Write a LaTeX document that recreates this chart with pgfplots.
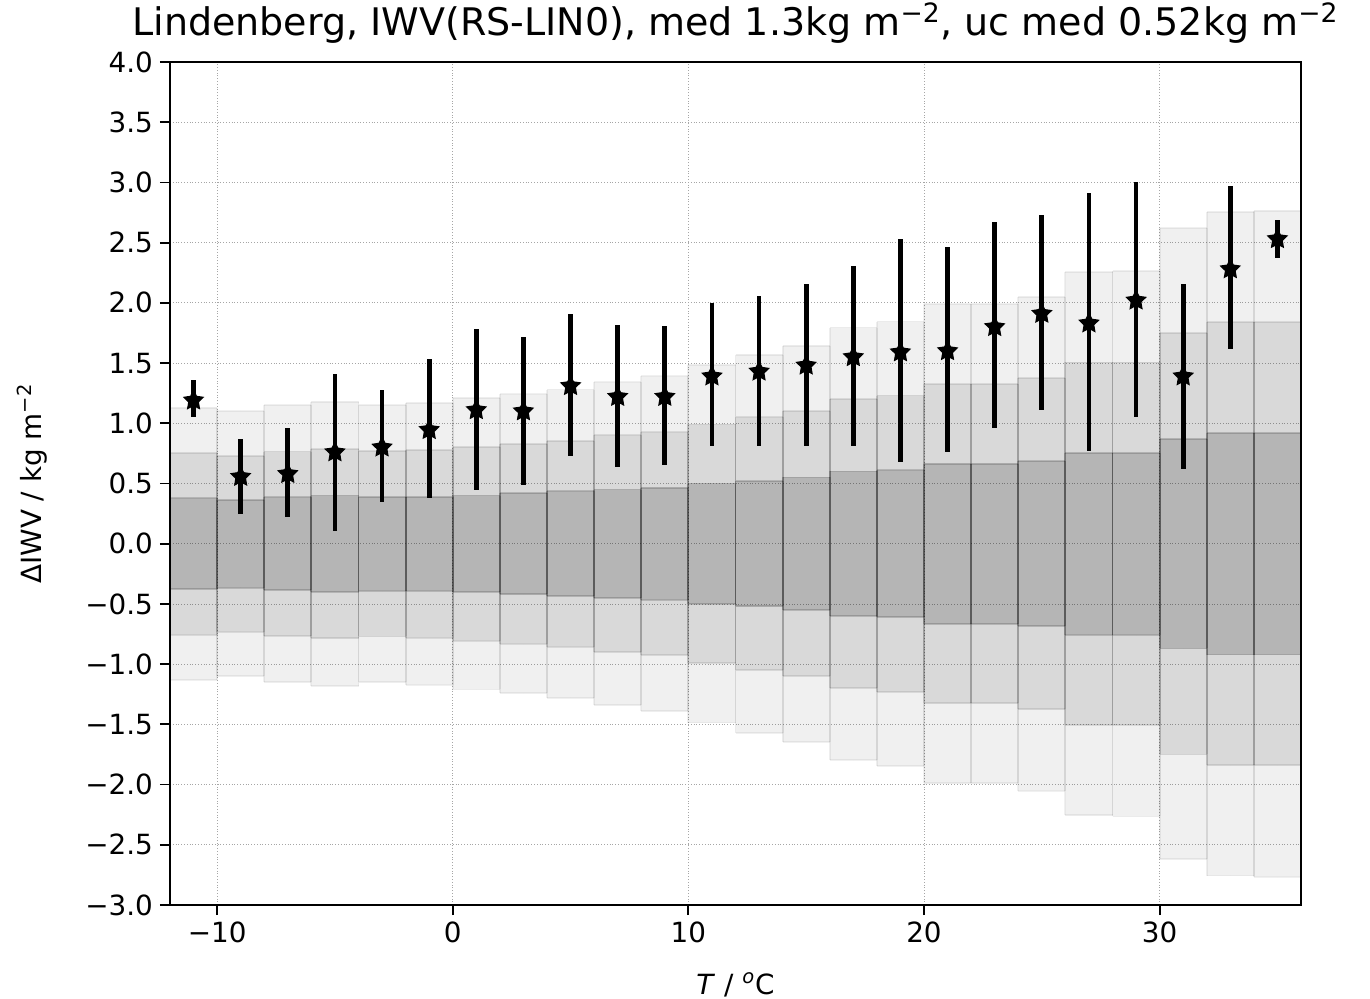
\documentclass[border=0pt]{standalone}
\usepackage{fontspec}
\setmainfont{DejaVu Sans}
\usepackage{pgfplots}
\usepackage{pgfplotstable}
\pgfplotsset{compat=1.18}

% filled five-pointed star, like matplotlib's '*'
\pgfdeclareplotmark{fstar}{%
  \pgfpathmoveto{\pgfpointpolar{90}{\pgfplotmarksize}}%
  \pgfpathlineto{\pgfpointpolar{126}{0.5\pgfplotmarksize}}%
  \pgfpathlineto{\pgfpointpolar{162}{\pgfplotmarksize}}%
  \pgfpathlineto{\pgfpointpolar{198}{0.5\pgfplotmarksize}}%
  \pgfpathlineto{\pgfpointpolar{234}{\pgfplotmarksize}}%
  \pgfpathlineto{\pgfpointpolar{270}{0.5\pgfplotmarksize}}%
  \pgfpathlineto{\pgfpointpolar{306}{\pgfplotmarksize}}%
  \pgfpathlineto{\pgfpointpolar{342}{0.5\pgfplotmarksize}}%
  \pgfpathlineto{\pgfpointpolar{18}{\pgfplotmarksize}}%
  \pgfpathlineto{\pgfpointpolar{54}{0.5\pgfplotmarksize}}%
  \pgfpathclose
  \pgfusepathqfillstroke}

% bin centre, 1/2/3 sigma half widths, median, error bar low/high
\pgfplotstableread{
x   s1     s2     s3     y      lo     hi
-11 0.377  0.755  1.13   1.19   1.05   1.36
-9  0.365  0.73   1.10   0.556  0.25   0.87
-7  0.385  0.765  1.15   0.58   0.22   0.96
-5  0.40   0.785  1.18   0.76   0.105  1.41
-3  0.39   0.77   1.15   0.80   0.35   1.28
-1  0.39   0.78   1.17   0.945  0.377  1.53
1   0.40   0.805  1.21   1.11   0.45   1.78
3   0.42   0.83   1.24   1.10   0.49   1.72
5   0.435  0.855  1.28   1.31   0.73   1.91
7   0.45   0.90   1.34   1.22   0.64   1.82
9   0.465  0.925  1.39   1.22   0.65   1.81
11  0.50   0.99   1.485  1.39   0.81   2.00
13  0.52   1.05   1.57   1.43   0.81   2.06
15  0.55   1.10   1.645  1.48   0.81   2.16
17  0.60   1.20   1.795  1.55   0.81   2.31
19  0.61   1.23   1.845  1.59   0.68   2.53
21  0.665  1.325  1.99   1.60   0.76   2.46
23  0.665  1.325  1.99   1.80   0.96   2.67
25  0.685  1.375  2.05   1.91   1.11   2.73
27  0.755  1.505  2.255  1.83   0.77   2.91
29  0.755  1.505  2.265  2.02   1.05   3.00
31  0.87   1.75   2.62   1.39   0.62   2.16
33  0.92   1.84   2.755  2.28   1.62   2.97
35  0.92   1.84   2.765  2.53   2.37   2.69
}\bins

\newcommand{\fs}{\fontsize{13.9}{16.5}\selectfont}

\begin{document}
\begin{tikzpicture}
\begin{axis}[
  width=565.5pt, height=421.5pt, scale only axis,
  xmin=-12, xmax=36, ymin=-3, ymax=4,
  xtick={-10,0,10,20,30},
  xticklabels={−10,0,10,20,30},
  ytick={-3,-2.5,-2,-1.5,-1,-0.5,0,0.5,1,1.5,2,2.5,3,3.5,4},
  yticklabels={−3.0,−2.5,−2.0,−1.5,−1.0,−0.5,0.0,0.5,1.0,1.5,2.0,2.5,3.0,3.5,4.0},
  tick align=outside, xtick pos=bottom, ytick pos=left,
  major tick length=5pt,
  tick style={black, line width=0.9pt},
  axis line style={line width=1.1pt},
  grid=major, grid style={gray!70, line width=0.4pt, densely dotted},
  ticklabel style={font=\fs},
  label style={font=\fs},
  xlabel shift=8pt, ylabel shift=12pt,
  title style={font=\fontsize{19}{22}\selectfont, at={(0.5,1)}, anchor=south, yshift=0pt},
  xlabel={\textit{T} / \textsuperscript{\textit{o}}C},
  ylabel={ΔIWV / kg m\textsuperscript{−2}},
  title={Lindenberg, IWV(RS-LIN0), med 1.3kg m\textsuperscript{−2}, uc med 0.52kg m\textsuperscript{−2}},
  band/.style={ybar, bar width=2, bar shift=0pt, draw=none, fill=black, fill opacity=#1, forget plot},
  vedge/.style={draw=none, no markers, forget plot,
    error bars/.cd, y dir=both, y explicit, error mark=none,
    error bar style={draw=black, draw opacity=#1, line width=0.9pt}},
  hedge/.style={draw=none, no markers, forget plot,
    error bars/.cd, x dir=both, x explicit, error mark=none,
    error bar style={draw=black, draw opacity=#1, line width=0.9pt}},
]
% 3 sigma band
\addplot[band=0.06] table[x=x, y=s3] {\bins};
\addplot[band=0.06] table[x=x, y expr=-\thisrow{s3}] {\bins};
% 2 sigma band
\addplot[band=0.096] table[x=x, y=s2] {\bins};
\addplot[band=0.096] table[x=x, y expr=-\thisrow{s2}] {\bins};
% 1 sigma band
\addplot[band=0.165] table[x=x, y=s1] {\bins};
\addplot[band=0.165] table[x=x, y expr=-\thisrow{s1}] {\bins};

% outlines of the bands
\addplot[vedge=0.06] table[x expr=\thisrow{x}-1, y expr=0, y error=s3] {\bins};
\addplot[vedge=0.06] table[x expr=\thisrow{x}+1, y expr=0, y error=s3] {\bins};
\addplot[vedge=0.096] table[x expr=\thisrow{x}-1, y expr=0, y error=s2] {\bins};
\addplot[vedge=0.096] table[x expr=\thisrow{x}+1, y expr=0, y error=s2] {\bins};
\addplot[vedge=0.165] table[x expr=\thisrow{x}-1, y expr=0, y error=s1] {\bins};
\addplot[vedge=0.165] table[x expr=\thisrow{x}+1, y expr=0, y error=s1] {\bins};
\addplot[hedge=0.06] table[x=x, y=s3, x error expr=1] {\bins};
\addplot[hedge=0.06] table[x=x, y expr=-\thisrow{s3}, x error expr=1] {\bins};
\addplot[hedge=0.096] table[x=x, y=s2, x error expr=1] {\bins};
\addplot[hedge=0.096] table[x=x, y expr=-\thisrow{s2}, x error expr=1] {\bins};
\addplot[hedge=0.165] table[x=x, y=s1, x error expr=1] {\bins};
\addplot[hedge=0.165] table[x=x, y expr=-\thisrow{s1}, x error expr=1] {\bins};

% medians with their spread
\addplot[only marks, mark=fstar, mark size=5pt, black,
  mark options={line width=0.6pt},
  error bars/.cd, y dir=both, y explicit, error mark=none,
  error bar style={black, line width=2.4pt}]
  table[x=x, y=y,
        y error plus expr=\thisrow{hi}-\thisrow{y},
        y error minus expr=\thisrow{y}-\thisrow{lo}] {\bins};
\end{axis}
\pgfresetboundingbox
\path[use as bounding box] (-85pt,-46.5pt) rectangle (600pt,452.5pt);
\end{tikzpicture}
\end{document}
